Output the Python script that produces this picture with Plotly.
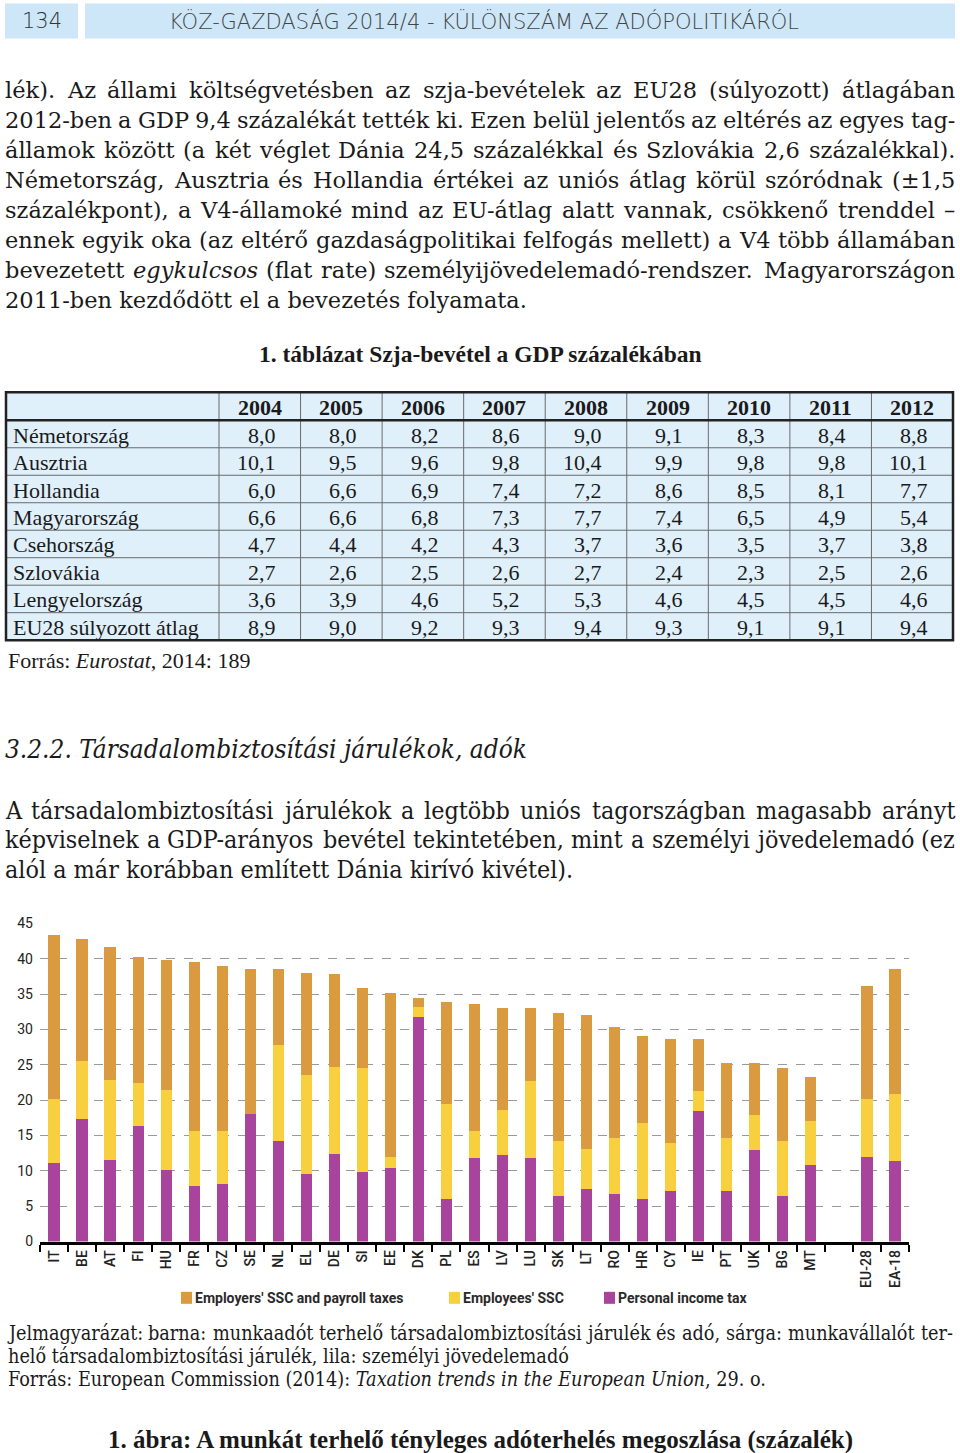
import glob
import struct
import plotly.graph_objects as go

W, H = 960, 1453

# ---------------- chart data ----------------
countries = ["IT", "BE", "AT", "FI", "HU", "FR", "CZ", "SE", "NL", "EL", "DE", "SI", "EE", "DK",
             "PL", "ES", "LV", "LU", "SK", "LT", "RO", "HR", "CY", "IE", "PT", "UK", "BG", "MT"]
aggregates = ["EU-28", "EA-18"]
pit_countries = [11.1, 17.3, 11.5, 16.4, 10.1, 7.9, 8.2, 18.1, 14.2, 9.5, 12.4, 9.8, 10.4, 31.7,
                 6.0, 11.8, 12.2, 11.8, 6.4, 7.5, 6.7, 6.0, 7.2, 18.5, 7.1, 13.0, 6.4, 10.8]
ee_countries = [9.1, 8.3, 11.4, 6.0, 11.3, 7.7, 7.4, 0.0, 13.6, 14.0, 12.3, 14.7, 1.6, 1.5,
                13.4, 3.8, 6.4, 10.9, 7.8, 5.6, 7.9, 10.8, 6.7, 2.8, 7.5, 4.9, 7.8, 6.3]
er_countries = [23.1, 17.2, 18.7, 17.8, 18.4, 23.9, 23.3, 20.5, 10.8, 14.5, 13.2, 11.3, 23.1, 1.2,
                14.5, 18.0, 14.4, 10.3, 18.1, 18.9, 15.7, 12.3, 14.8, 7.3, 10.7, 7.3, 10.3, 6.2]
pit_aggr = [12.0, 11.4]
ee_aggr = [8.2, 9.4]
er_aggr = [16.0, 17.7]
series_names = ["Employers' SSC and payroll taxes", "Employees' SSC", "Personal income tax"]
series_colors = ["#DA9B40", "#F8CF3F", "#A9449D"]
y_ticks = [0, 5, 10, 15, 20, 25, 30, 35, 40, 45]

# ---------------- table data ----------------
table_title = "1. táblázat Szja-bevétel a GDP százalékában"
years = ["2004", "2005", "2006", "2007", "2008", "2009", "2010", "2011", "2012"]
row_labels = ["Németország", "Ausztria", "Hollandia", "Magyarország", "Csehország",
              "Szlovákia", "Lengyelország", "EU28 súlyozott átlag"]
de_vals = [8.0, 8.0, 8.2, 8.6, 9.0, 9.1, 8.3, 8.4, 8.8]
at_vals = [10.1, 9.5, 9.6, 9.8, 10.4, 9.9, 9.8, 9.8, 10.1]
nl_vals = [6.0, 6.6, 6.9, 7.4, 7.2, 8.6, 8.5, 8.1, 7.7]
hu_vals = [6.6, 6.6, 6.8, 7.3, 7.7, 7.4, 6.5, 4.9, 5.4]
cz_vals = [4.7, 4.4, 4.2, 4.3, 3.7, 3.6, 3.5, 3.7, 3.8]
sk_vals = [2.7, 2.6, 2.5, 2.6, 2.7, 2.4, 2.3, 2.5, 2.6]
pl_vals = [3.6, 3.9, 4.6, 5.2, 5.3, 4.6, 4.5, 4.5, 4.6]
eu_vals = [8.9, 9.0, 9.2, 9.3, 9.4, 9.3, 9.1, 9.1, 9.4]
table_rows = [de_vals, at_vals, nl_vals, hu_vals, cz_vals, sk_vals, pl_vals, eu_vals]

# ---------------- texts ----------------
header_page = "134"
header_title = "KÖZ-GAZDASÁG 2014/4 - KÜLÖNSZÁM AZ ADÓPOLITIKÁRÓL"
para1 = [
    "lék). Az állami költségvetésben az szja-bevételek az EU28 (súlyozott) átlagában",
    "2012-ben a GDP 9,4 százalékát tették ki. Ezen belül jelentős az eltérés az egyes tag-",
    "államok között (a két véglet Dánia 24,5 százalékkal és Szlovákia 2,6 százalékkal).",
    "Németország, Ausztria és Hollandia értékei az uniós átlag körül szóródnak (±1,5",
    "százalékpont), a V4-államoké mind az EU-átlag alatt vannak, csökkenő trenddel –",
    "ennek egyik oka (az eltérő gazdaságpolitikai felfogás mellett) a V4 több államában",
    "bevezetett <i>egykulcsos</i> (flat rate) személyijövedelemadó-rendszer. Magyarországon",
    "2011-ben kezdődött el a bevezetés folyamata.",
]
table_source = "Forrás: <i>Eurostat</i>, 2014: 189"
section_head = "3.2.2. Társadalombiztosítási járulékok, adók"
para2 = [
    "A társadalombiztosítási járulékok a legtöbb uniós tagországban magasabb arányt",
    "képviselnek a GDP-arányos bevétel tekintetében, mint a személyi jövedelemadó (ez",
    "alól a már korábban említett Dánia kirívó kivétel).",
]
caption = [
    "Jelmagyarázat: barna: munkaadót terhelő társadalombiztosítási járulék és adó, sárga: munkavállalót ter-",
    "helő társadalombiztosítási járulék, lila: személyi jövedelemadó",
    "Forrás: European Commission (2014): <i>Taxation trends in the European Union</i>, 29. o.",
]
figure_title = "1. ábra: A munkát terhelő tényleges adóterhelés megoszlása (százalék)"


# ---------------- font metrics (for justified text) ----------------
def load_metrics(fname):
    paths = glob.glob("/usr/share/fonts/**/" + fname, recursive=True) + \
        glob.glob("/usr/local/share/fonts/**/" + fname, recursive=True)
    if not paths:
        return None
    try:
        data = open(paths[0], "rb").read()
        ntab = struct.unpack(">H", data[4:6])[0]
        tabs = {}
        for i in range(ntab):
            tag, _cs, off, ln = struct.unpack(">4sIII", data[12 + 16 * i:28 + 16 * i])
            tabs[tag.decode("latin1")] = off
        upem = struct.unpack(">H", data[tabs["head"] + 18:tabs["head"] + 20])[0]
        nhm = struct.unpack(">H", data[tabs["hhea"] + 34:tabs["hhea"] + 36])[0]
        nglyph = struct.unpack(">H", data[tabs["maxp"] + 4:tabs["maxp"] + 6])[0]
        hm = tabs["hmtx"]
        adv = [struct.unpack(">H", data[hm + 4 * i:hm + 4 * i + 2])[0] for i in range(nhm)]
        lsb = [struct.unpack(">h", data[hm + 4 * i + 2:hm + 4 * i + 4])[0] for i in range(nhm)]
        base = hm + 4 * nhm
        lsb += [struct.unpack(">h", data[base + 2 * j:base + 2 * j + 2])[0] for j in range(nglyph - nhm)]
        cm = tabs["cmap"]
        n = struct.unpack(">H", data[cm + 2:cm + 4])[0]
        sub = None
        for i in range(n):
            pid, eid, off = struct.unpack(">HHI", data[cm + 4 + 8 * i:cm + 12 + 8 * i])
            fmt = struct.unpack(">H", data[cm + off:cm + off + 2])[0]
            if fmt == 4 and (pid == 3 or pid == 0):
                sub = cm + off
                break
        if sub is None:
            return None
        segx2 = struct.unpack(">H", data[sub + 6:sub + 8])[0]
        seg = segx2 // 2
        ends = struct.unpack(">%dH" % seg, data[sub + 14:sub + 14 + segx2])
        starts = struct.unpack(">%dH" % seg, data[sub + 16 + segx2:sub + 16 + 2 * segx2])
        deltas = struct.unpack(">%dh" % seg, data[sub + 16 + 2 * segx2:sub + 16 + 3 * segx2])
        rpos = sub + 16 + 3 * segx2
        roffs = struct.unpack(">%dH" % seg, data[rpos:rpos + segx2])

        def glyph(ch):
            code = ord(ch)
            for i in range(seg):
                if code <= ends[i]:
                    if code < starts[i]:
                        return 0
                    if roffs[i] == 0:
                        return (code + deltas[i]) & 0xFFFF
                    addr = rpos + 2 * i + roffs[i] + 2 * (code - starts[i])
                    g = struct.unpack(">H", data[addr:addr + 2])[0]
                    return (g + deltas[i]) & 0xFFFF if g else 0
            return 0

        def width(s, size):
            tot = 0
            for ch in s:
                g = glyph(ch)
                tot += adv[min(g, nhm - 1)]
            return tot * size / upem

        def first_lsb(s, size):
            if not s:
                return 0.0
            g = glyph(s[0])
            v = lsb[g] if g < len(lsb) else 0
            return v * size / upem

        return width, first_lsb
    except Exception:
        return None


# page coordinates -> paper coordinates (the photographed page is slightly squeezed vertically)
Y_OFF, Y_SCALE = 7.5, 0.9895


def px(x):
    return x / W


def py(y):
    return 1 - ((y - Y_OFF) / Y_SCALE) / H


LIB = "Liberation Serif, Times New Roman, serif"
DJV = "DejaVu Serif, serif"
DJC = "DejaVu Serif Condensed, Liberation Serif, serif"
SANS = "Roboto, Open Sans, sans-serif"
TXT = "#1a1a1a"

metrics = {
    (DJV, False): load_metrics("DejaVuSerif.ttf"),
    (DJV, True): load_metrics("DejaVuSerif-Italic.ttf"),
    (LIB, False): load_metrics("LiberationSerif-Regular.ttf"),
    (LIB, True): load_metrics("LiberationSerif-Italic.ttf"),
    (DJC, False): load_metrics("DejaVuSerifCondensed.ttf"),
    (DJC, True): load_metrics("DejaVuSerifCondensed-Italic.ttf"),
}
HAVE_COND = metrics[(DJC, False)] is not None

annotations = []
shapes = []


def text(x, y, s, size, family=LIB, anchor="left", color=TXT, weight=None):
    f = dict(size=size, family=family, color=color)
    if weight is not None:
        f["weight"] = weight
    annotations.append(dict(x=px(x), y=py(y), xref="paper", yref="paper", text=s, showarrow=False,
                            xanchor=anchor, yanchor="middle", font=f, borderpad=0, borderwidth=0))


def justified(line, x0, x1, y, size, family):
    words = line.split(" ")
    reg, ita = metrics[(family, False)], metrics[(family, True)]
    if reg is None or len(words) < 2:
        text(x0, y, line, size, family)
        return
    widths, shifts = [], []
    for w in words:
        plain = w.replace("<i>", "").replace("</i>", "")
        fn = ita if ("<i>" in w and ita is not None) else reg
        widths.append(fn[0](plain, size))
        shifts.append(min(0.0, fn[1](plain, size)))
    gap = (x1 - x0 - sum(widths)) / (len(words) - 1)
    xx = x0
    for w, wd, sh in zip(words, widths, shifts):
        text(xx + sh, y, w, size, family)
        xx += wd + gap


def fit_size(line, target, family, default, italic=False):
    fn = metrics[(family, italic)]
    if fn is None:
        return default
    return target / fn[0](line, 1.0)


fig = go.Figure()
cats = countries + [" "] + aggregates
pit = pit_countries + [None] + pit_aggr
ee = ee_countries + [None] + ee_aggr
er = er_countries + [None] + er_aggr
for name, vals, col in [(series_names[2], pit, series_colors[2]),
                        (series_names[1], ee, series_colors[1]),
                        (series_names[0], er, series_colors[0])]:
    fig.add_trace(go.Bar(x=cats, y=vals, name=name, marker=dict(color=col, line=dict(width=0)),
                         showlegend=False))

# header
for bx0, bx1 in [(5, 78), (85, 955)]:
    shapes.append(dict(type="rect", xref="paper", yref="paper", x0=px(bx0), x1=px(bx1), y0=py(3), y1=py(38),
                       fillcolor="#CDE7F8", line=dict(width=0), layer="below"))
text(42, 21, header_page, 21, family="DejaVu Sans", anchor="center", color="#333", weight=300)
text(484, 21, header_title, 21, family="DejaVu Sans", anchor="center", color="#444", weight=200)

# paragraph 1 (justified)
p1_size = fit_size(para1[5], 944, DJV, 21)
for i, line in enumerate(para1):
    if i < len(para1) - 1:
        justified(line, 5, 955, 90 + 30 * i, p1_size, DJV)
    else:
        text(5, 90 + 30 * i, line, p1_size, DJV)

# table
text(480, 354, "<b>" + table_title + "</b>", 23.5, anchor="center")
tx0, tx1, ty0, thead, ty1 = 6, 953, 392, 420, 640
first_w = 219
col_w = (tx1 - first_w) / len(years)
row_h = (ty1 - thead) / len(row_labels)
shapes.append(dict(type="rect", xref="paper", yref="paper", x0=px(tx0), x1=px(tx1), y0=py(ty0), y1=py(ty1),
                   fillcolor="#E0F0FB", line=dict(width=0), layer="below"))
for r in range(1, len(row_labels)):
    yy = thead + r * row_h
    shapes.append(dict(type="line", xref="paper", yref="paper", x0=px(tx0), x1=px(tx1), y0=py(yy), y1=py(yy),
                       line=dict(color="#6a6a6a", width=1)))
for c in range(len(years)):
    xx = first_w + c * col_w
    shapes.append(dict(type="line", xref="paper", yref="paper", x0=px(xx), x1=px(xx), y0=py(ty0), y1=py(ty1),
                       line=dict(color="#6a6a6a", width=1)))
shapes.append(dict(type="line", xref="paper", yref="paper", x0=px(tx0), x1=px(tx1), y0=py(thead), y1=py(thead),
                   line=dict(color="#222", width=2.5)))
shapes.append(dict(type="rect", xref="paper", yref="paper", x0=px(tx0), x1=px(tx1), y0=py(ty0), y1=py(ty1),
                   line=dict(color="#222", width=2.5)))
for c, yr in enumerate(years):
    text(first_w + (c + 0.5) * col_w, (ty0 + thead) / 2 + 1, "<b>" + yr + "</b>", 22, anchor="center")
for r, (lab, vals) in enumerate(zip(row_labels, table_rows)):
    yc = thead + (r + 0.5) * row_h + 1
    text(13, yc, lab, 22)
    for c, v in enumerate(vals):
        text(first_w + (c + 1) * col_w - 25, yc, f"{v:.1f}".replace(".", ","), 22, anchor="right")
text(8, 660, table_source, 22)

# section heading & paragraph 2
if HAVE_COND and metrics[(DJC, True)] is not None:
    h_size = fit_size(section_head, 524, DJC, 29, italic=True)
    text(5, 749, "<i>" + section_head + "</i>", h_size, family=DJC)
else:
    text(5, 749, "<i>" + section_head + "</i>", 29)
P2F = DJC if HAVE_COND else LIB
p2_size = fit_size(para2[1], 946, P2F, 26)
for i, line in enumerate(para2):
    if i < len(para2) - 1:
        justified(line, 5, 955, 810 + 29.5 * i, p2_size, P2F)
    else:
        text(5, 810 + 29.5 * i, line, p2_size, P2F)

# legend (manual)
leg_x = [181, 449, 604]
for name, col, lx in zip(series_names, series_colors, leg_x):
    shapes.append(dict(type="rect", xref="paper", yref="paper", x0=px(lx), x1=px(lx + 11), y0=py(1292),
                       y1=py(1304), fillcolor=col, line=dict(width=0)))
    text(lx + 14, 1298, "<b>" + name + "</b>", 14, family=SANS, color="#2a2a2a")

# caption
CF = DJC if HAVE_COND else LIB
c_size = min(fit_size(caption[0], 940, CF, 20), 20)
justified(caption[0], 8, 953, 1334, c_size, CF)
text(8, 1357, caption[1], c_size, CF)
text(8, 1380, caption[2], c_size, CF)
text(480, 1440, "<b>" + figure_title + "</b>", 25, anchor="center")

fig.update_layout(
    width=W, height=H,
    margin=dict(l=0, r=0, t=0, b=0),
    paper_bgcolor="white", plot_bgcolor="white",
    barmode="stack", bargap=0.6,
    annotations=annotations, shapes=shapes,
    showlegend=False,
    xaxis=dict(domain=[px(40), px(909)], type="category", categoryorder="array", categoryarray=cats,
               showline=True, linecolor="black", linewidth=3, ticks="outside", tickson="boundaries",
               ticklen=7, tickwidth=2, tickcolor="black", tickangle=-90, showgrid=False,
               tickfont=dict(family=SANS, size=14, color="#222", weight=500)),
    yaxis=dict(domain=[py(1241.7), py(923.3)], range=[0, 45], tickvals=y_ticks, showgrid=True,
               gridcolor="#9a9a9a", griddash="dash", gridwidth=1, zeroline=False, showline=False,
               ticks="", ticklabelstandoff=6, tickfont=dict(family=SANS, size=14, color="#222")),
)

fig.write_html("out.html", config={"displayModeBar": False},
               post_script="document.body.style.margin='0';")
